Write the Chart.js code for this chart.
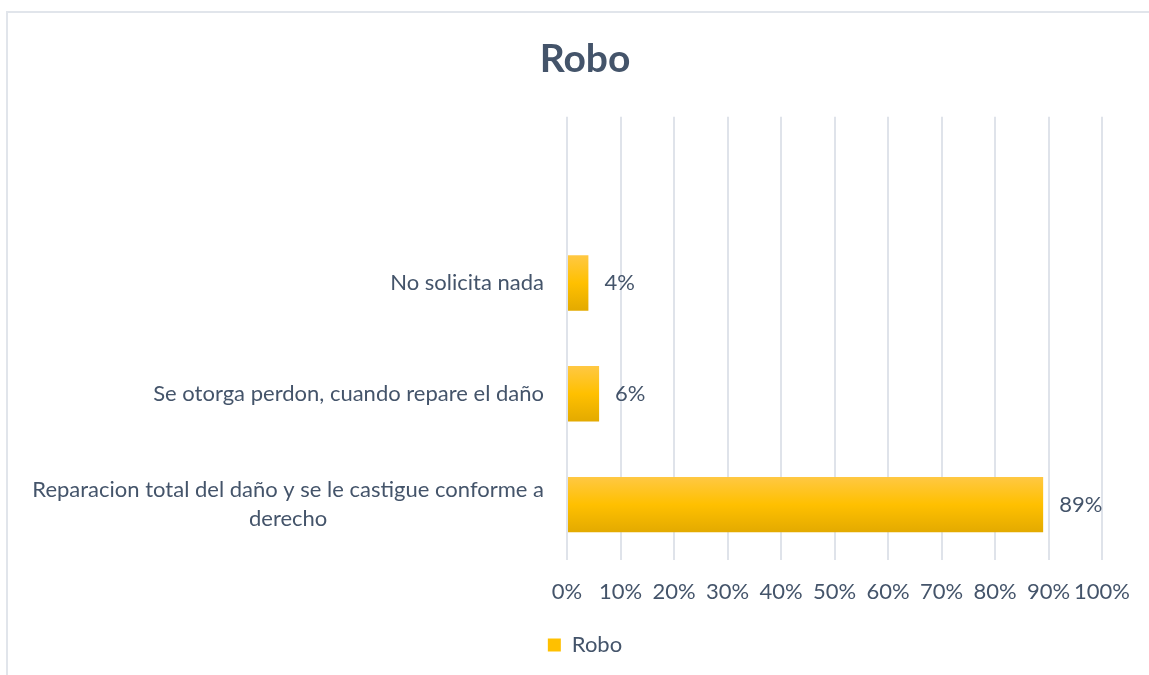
<!DOCTYPE html>
<html>
<head>
<meta charset="utf-8">
<script src="https://cdn.jsdelivr.net/npm/chart.js@4"></script>
<style>
  html, body { margin: 0; padding: 0; background: #fff; overflow: hidden; }
  #frame { position: absolute; left: 6px; top: 11px; width: 1200px; height: 700px;
           border-left: 2px solid #e1e5eb; border-top: 2px solid #e1e5eb; }
  #wrap { position: absolute; left: 0; top: 0; width: 1149px; height: 675px; }
</style>
</head>
<body>
<div id="frame"></div>
<div id="wrap"><canvas id="barChart"></canvas></div>
<script>
// data
var categories = ["", "No solicita nada", "Se otorga perdon, cuando repare el daño",
  ["Reparacion total del daño y se le castigue conforme a", "derecho"]];
var robo = [null, 4, 6, 89];
var xTicks = [0, 10, 20, 30, 40, 50, 60, 70, 80, 90, 100];

var textColor = '#44546A';
var fontFamily = 'Lato, "Open Sans", sans-serif';
var fontSize = 22;

function barFill(context) {
  var chart = context.chart;
  var y = chart.scales && chart.scales.y;
  if (context.dataIndex === undefined || !y || !chart.chartArea) return '#FFC000';
  var mid = y.getPixelForValue(context.dataIndex);
  var half = (y.height / categories.length) * 0.25;
  var g = chart.ctx.createLinearGradient(0, mid - half, 0, mid + half);
  g.addColorStop(0, '#FFC843');
  g.addColorStop(0.5, '#FFC000');
  g.addColorStop(1, '#E3AA00');
  return g;
}

// category labels: block right aligned, lines centred inside block
var yLabels = {
  id: 'yLabels',
  afterDraw: function(chart) {
    var ctx = chart.ctx, y = chart.scales.y;
    ctx.save();
    ctx.font = fontSize + 'px ' + fontFamily;
    ctx.fillStyle = textColor;
    ctx.textAlign = 'center';
    ctx.textBaseline = 'middle';
    var right = chart.chartArea.left - 23;
    categories.forEach(function(lab, i) {
      var lines = Array.isArray(lab) ? lab : [lab];
      var w = 0;
      lines.forEach(function(l) { w = Math.max(w, ctx.measureText(l).width); });
      var cx = right - w / 2;
      var lh = 29;
      var top = y.getPixelForValue(i) - (lines.length - 1) * lh / 2;
      lines.forEach(function(l, k) { ctx.fillText(l, cx, top + k * lh); });
    });
    ctx.restore();
  }
};

// value labels after bar ends
var valueLabels = {
  id: 'valueLabels',
  afterDatasetsDraw: function(chart) {
    var ctx = chart.ctx;
    var meta = chart.getDatasetMeta(0);
    ctx.save();
    ctx.font = fontSize + 'px ' + fontFamily;
    ctx.fillStyle = textColor;
    ctx.textAlign = 'left';
    ctx.textBaseline = 'middle';
    meta.data.forEach(function(bar, i) {
      if (robo[i] === null) return;
      ctx.fillText(robo[i] + '%', bar.x + 16, bar.y);
    });
    ctx.restore();
  }
};

var ctxB = document.getElementById("barChart").getContext('2d');
var myBarChart = new Chart(ctxB, {
  type: 'bar',
  data: {
    labels: categories,
    datasets: [{
      label: "Robo",
      data: robo,
      backgroundColor: barFill,
      borderWidth: 0,
      categoryPercentage: 0.5,
      barPercentage: 1
    }]
  },
  options: {
    indexAxis: 'y',
    responsive: true,
    maintainAspectRatio: false,
    animation: false,
    layout: { padding: { left: 68, right: 47, top: 0, bottom: 9 } },
    scales: {
      x: {
        min: 0,
        max: 100,
        afterBuildTicks: function(scale) {
          scale.ticks = xTicks.map(function(v) { return { value: v }; });
        },
        afterFit: function(scale) { scale.height = 64; },
        grid: { color: '#dfe3ea', lineWidth: 2, drawTicks: false },
        border: { display: false },
        ticks: {
          padding: 19,
          color: textColor,
          font: { family: fontFamily, size: fontSize },
          maxRotation: 0,
          autoSkip: false,
          callback: function(v) { return v + '%'; }
        }
      },
      y: {
        afterFit: function(scale) { scale.width = 499; },
        grid: { display: false },
        border: { display: false },
        ticks: { display: false }
      }
    },
    plugins: {
      title: {
        display: true,
        text: 'Robo',
        color: textColor,
        font: { family: fontFamily, size: 39, weight: 'bold', lineHeight: 1.2 },
        padding: { top: 36, bottom: 34 }
      },
      legend: {
        position: 'bottom',
        labels: {
          color: textColor,
          font: { family: fontFamily, size: fontSize },
          boxWidth: 13,
          boxHeight: 13,
          generateLabels: function(chart) {
            var items = Chart.defaults.plugins.legend.labels.generateLabels(chart);
            items.forEach(function(it) { it.fillStyle = '#FFC000'; it.strokeStyle = '#FFC000'; it.lineWidth = 0; });
            return items;
          }
        }
      },
      tooltip: { enabled: false }
    }
  },
  plugins: [yLabels, valueLabels]
});
</script>
</body>
</html>
